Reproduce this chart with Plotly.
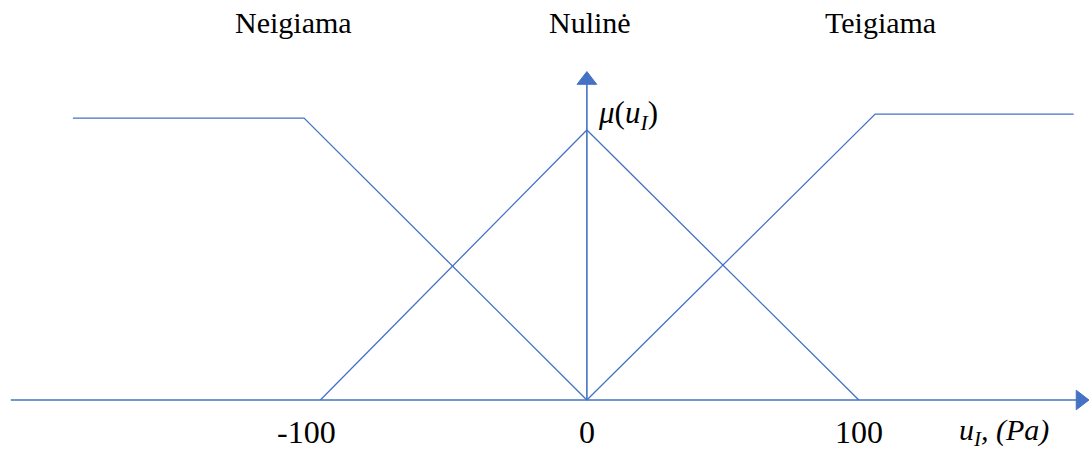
import plotly.graph_objects as go

# Membership functions for the pressure error u_I (Pa)
neg_x = [-189, -104, 0]
neg_mu = [1.044, 1.044, 0]
zero_x = [-98, 0, 100]
zero_mu = [0, 1, 0]
pos_x = [0, 106, 179]
pos_mu = [0, 1.059, 1.059]

set_names = ["Neigiama", "Nulinė", "Teigiama"]
set_pos = [-108, 1, 108]
tick_vals = [-100, 0, 100]
tick_text = ["-100", "0", "100"]

# extent of the drawn axes (data units)
x_axis_span = [-211.8, 181.5]
y_axis_top = 1.185

BLUE = "#4472C4"
SERIF = "Liberation Serif, Times New Roman, serif"

fig = go.Figure()
for xs, ys in [(neg_x, neg_mu), (zero_x, zero_mu), (pos_x, pos_mu)]:
    fig.add_trace(go.Scatter(x=xs, y=ys, mode="lines",
                             line=dict(color=BLUE, width=1.3),
                             hoverinfo="skip", showlegend=False))

# horizontal axis with arrow head
fig.add_trace(go.Scatter(x=x_axis_span, y=[0, 0], mode="lines+markers",
                         line=dict(color=BLUE, width=1.6),
                         marker=dict(symbol=["line-ns", "triangle-right"], size=[0.1, 17],
                                     color=BLUE, opacity=1,
                                     line=dict(width=1, color=BLUE)),
                         hoverinfo="skip", showlegend=False))
# vertical axis with arrow head
fig.add_trace(go.Scatter(x=[0, 0], y=[0, y_axis_top], mode="lines+markers",
                         line=dict(color=BLUE, width=1.6),
                         marker=dict(symbol=["line-ew", "triangle-up"], size=[0.1, 17],
                                     color=BLUE, opacity=1,
                                     line=dict(width=1, color=BLUE)),
                         hoverinfo="skip", showlegend=False))

ann = []
for name, xp in zip(set_names, set_pos):
    ann.append(dict(x=xp, y=1.4, xref="x", yref="y", text=name,
                    showarrow=False, font=dict(family=SERIF, size=30, color="black")))

for v, t in zip(tick_vals, tick_text):
    ann.append(dict(x=v, y=-0.12, xref="x", yref="y", text=t, showarrow=False,
                    xshift=-8 if v < 0 else 0,
                    font=dict(family=SERIF, size=32, color="black")))

ann.append(dict(x=3.5, y=1.057, xref="x", yref="y", xanchor="left",
                text="<i>μ</i>(<i>u</i><sub><i>I</i></sub>)", showarrow=False,
                font=dict(family=SERIF, size=31, color="black")))
ann.append(dict(x=136, y=-0.12, xref="x", yref="y", xanchor="left",
                text="<i>u<sub>I</sub>, (Pa)</i>", showarrow=False,
                font=dict(family=SERIF, size=30, color="black")))

fig.update_layout(
    width=1090, height=452,
    margin=dict(l=0, r=0, t=0, b=0),
    paper_bgcolor="white", plot_bgcolor="white",
    xaxis=dict(range=[-215.8, 185.0], visible=False, fixedrange=True),
    yaxis=dict(range=[-0.1926, 1.4815], visible=False, fixedrange=True),
    annotations=ann,
)

fig.write_html("out.html")
